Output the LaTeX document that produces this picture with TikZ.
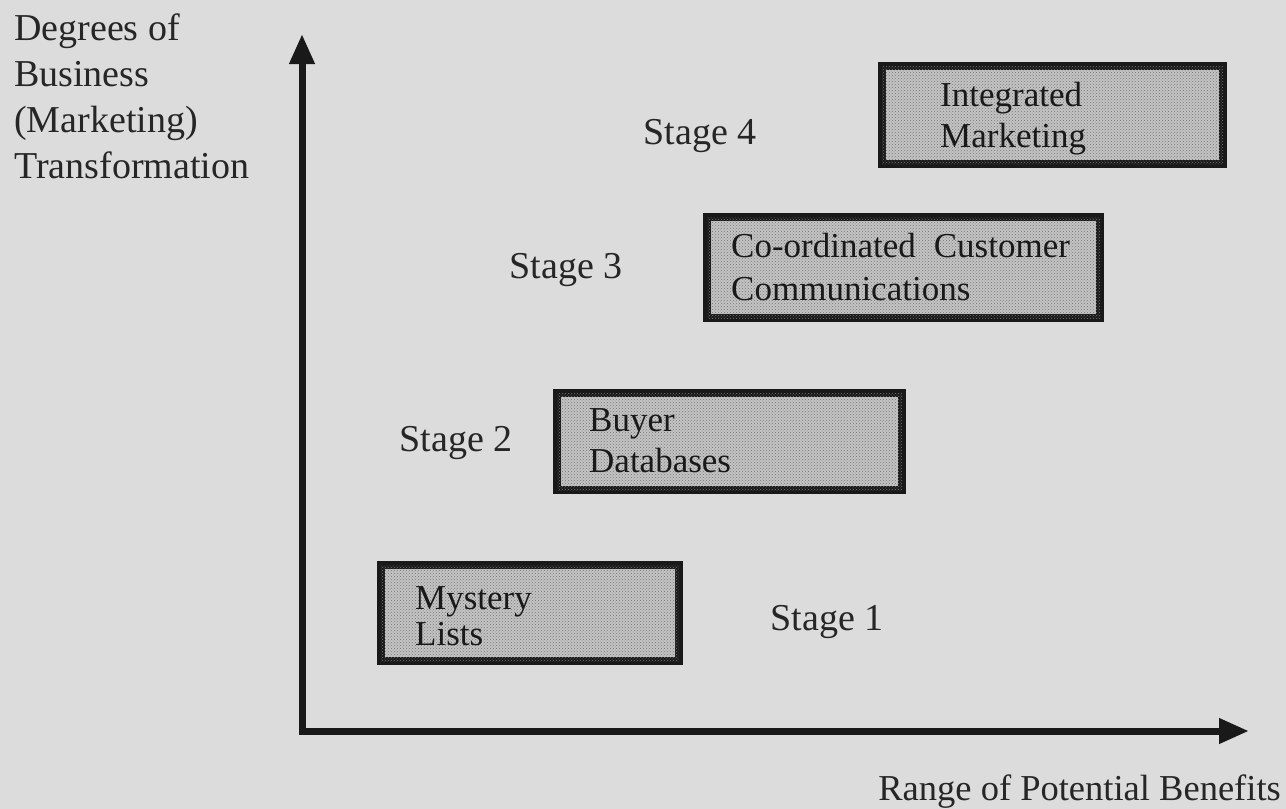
\documentclass[tikz,border=0pt]{standalone}
\usepackage{fontspec}
\setmainfont{Liberation Serif}
\usetikzlibrary{arrows.meta,patterns}
\definecolor{paper}{HTML}{DCDCDC}
\definecolor{boxfill}{HTML}{C4C4C4}
\definecolor{dotgray}{HTML}{767676}
\tikzset{
  axis/.style={line width=7pt, draw=black!90,
    {Triangle[length=30pt,width=24pt]}-{Triangle[length=30pt,width=24pt]}},
  stagebox/.style={draw=black!90, line width=8pt, fill=boxfill,
    postaction={pattern=crosshatch dots, pattern color=dotgray},
    inner sep=0pt, rectangle},
  boxtext/.style={font=\fontsize{35}{41}\selectfont, align=left,
    anchor=base west, inner sep=0pt, text=black!90},
  bigtext/.style={font=\fontsize{38}{46}\selectfont, inner sep=0pt, text=black!85},
}
\begin{document}
\begin{tikzpicture}[x=1pt,y=-1pt]
  \fill[paper] (0,0) rectangle (1286,809);
  \useasboundingbox (0,0) rectangle (1286,809);

  % axes
  \coordinate (origin) at (302,731);
  \coordinate (ytip) at (302,34);
  \coordinate (xtip) at (1249,731);
  \draw[axis] (ytip) -- (origin) -- (xtip);

  % axis titles (base anchor sits on the last line)
  \node[bigtext, anchor=base west, align=left] (ylabel) at (14,178)
    {Degrees of\\Business\\(Marketing)\\Transformation};
  \node[bigtext, font=\fontsize{36.5}{44}\selectfont, anchor=base east] (xlabel) at (1281,800)
    {Range of Potential Benefits};

  % stage boxes (border centre lines)
  \node[stagebox, minimum width=341pt, minimum height=98pt] (b4) at (1052.5,115) {};
  \node[stagebox, minimum width=393pt, minimum height=101pt] (b3) at (903.5,267.5) {};
  \node[stagebox, minimum width=345pt, minimum height=97pt] (b2) at (729.5,441.5) {};
  \node[stagebox, minimum width=298pt, minimum height=96pt] (b1) at (530,613) {};

  % box contents
  \node[boxtext] (t4) at (940,147) {Integrated\\Marketing};
  \node[boxtext, font=\fontsize{35}{43}\selectfont] (t3) at (731,300) {Co-ordinated\hspace{18pt}Customer\\Communications};
  \node[boxtext] (t2) at (589,472) {Buyer\\Databases};
  \node[boxtext, font=\fontsize{35}{36}\selectfont] (t1) at (415,645) {Mystery\\Lists};

  % stage labels
  \node[bigtext, anchor=base] (s4) at (700,144) {Stage 4};
  \node[bigtext, anchor=base] (s3) at (566,278) {Stage 3};
  \node[bigtext, anchor=base] (s2) at (456,451) {Stage 2};
  \node[bigtext, anchor=base] (s1) at (827,630) {Stage 1};
\end{tikzpicture}
\end{document}
